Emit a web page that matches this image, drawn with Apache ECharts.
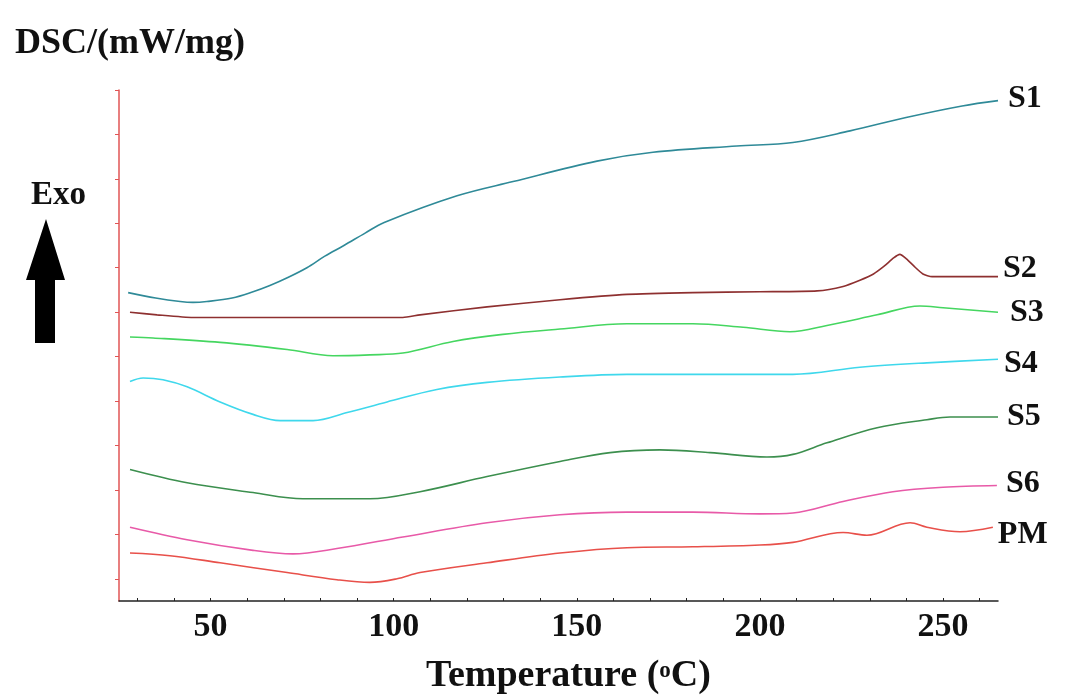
<!DOCTYPE html>
<html>
<head>
<meta charset="utf-8">
<title>DSC</title>
<script src="https://cdn.jsdelivr.net/npm/echarts@6/dist/echarts.min.js"></script>
<style>
	html, body { margin: 0; padding: 0; background: #fff; }
	#chartBox { width: 1065px; height: 695px; }
</style>
</head>
<body>
<div id="chartBox"></div>
<script>
// [temperature (°C), DSC offset (arbitrary, curves are stacked)]
const S1 = [[27.5,3.47],[35,3.41],[41.7,3.37],[45.2,3.36],[49,3.37],[55.9,3.41],[61.6,3.48],[66.2,3.55],[71.1,3.64],[76.3,3.75],[81.2,3.88],[86.4,4.00],[92.2,4.14],[97.4,4.26],[117.3,4.56],[132.6,4.72],[155.5,4.95],[170.8,5.05],[193.7,5.12],[209,5.16],[224.6,5.29],[239.9,5.44],[255.2,5.57],[265,5.63]]
const S2 = [[28,3.25],[35.4,3.22],[45.2,3.19],[70,3.19],[96.3,3.19],[102.5,3.19],[107.2,3.22],[125.5,3.31],[145.4,3.39],[163.7,3.45],[181.7,3.47],[200,3.48],[215.6,3.49],[222.7,3.54],[227.3,3.61],[231,3.68],[234,3.77],[236.5,3.86],[238.2,3.90],[240,3.85],[242,3.77],[244.5,3.68],[247,3.65],[265,3.65]]
const S3 = [[28,2.97],[34.3,2.96],[52.6,2.91],[70.9,2.83],[83.4,2.76],[93.5,2.77],[102.5,2.79],[116.2,2.92],[129.8,3.00],[145.4,3.06],[163.7,3.12],[181.7,3.12],[195.4,3.08],[208.2,3.03],[218.3,3.10],[232,3.22],[243.7,3.32],[250,3.30],[265,3.25]]
const S4 = [[28,2.47],[31.6,2.51],[37,2.49],[43.6,2.41],[52.6,2.24],[61.6,2.10],[69,2.03],[78,2.03],[87.3,2.12],[98.2,2.24],[111.8,2.38],[125.5,2.46],[145.4,2.52],[163.7,2.55],[181.7,2.55],[209,2.55],[227.3,2.63],[245.6,2.68],[265,2.72]]
const S5 = [[28,1.48],[43.6,1.33],[61.6,1.22],[75.2,1.15],[93.5,1.15],[107.2,1.23],[125.5,1.40],[145.4,1.57],[159.1,1.67],[172.7,1.70],[186.4,1.67],[201.9,1.62],[209,1.65],[218.3,1.78],[232,1.95],[245.6,2.04],[251.9,2.07],[265,2.07]]
const S6 = [[28,0.83],[43.6,0.69],[61.6,0.57],[72.5,0.53],[84.5,0.59],[102.5,0.72],[125.5,0.88],[145.4,0.97],[163.7,1.00],[181.7,1.00],[200,0.98],[209,0.99],[222.7,1.12],[236.3,1.23],[250,1.28],[264.7,1.30]]
const PM = [[28,0.54],[38.9,0.51],[52.6,0.43],[70.9,0.32],[84.5,0.24],[93.5,0.21],[100.9,0.25],[107.2,0.32],[125.5,0.43],[145.4,0.54],[163.7,0.60],[181.7,0.61],[200,0.63],[209,0.66],[222.7,0.77],[229.2,0.74],[241,0.88],[245.6,0.83],[254.6,0.78],[263.6,0.83]]

const seriesNames = ['S1', 'S2', 'S3', 'S4', 'S5', 'S6', 'PM']
const seriesData = [S1, S2, S3, S4, S5, S6, PM]
const xLabelValues = [50, 100, 150, 200, 250]
const xTickValues = [30, 40, 50, 60, 70, 80, 90, 100, 110, 120, 130, 140, 150, 160, 170, 180, 190, 200, 210, 220, 230, 240, 250, 260]
const yTickValues = [0.25, 0.75, 1.25, 1.75, 2.25, 2.75, 3.25, 3.75, 4.25, 4.75, 5.25, 5.75]

const colorList = ['#2f8a98', '#8e3030', '#45d660', '#3fd8ec', '#3c8f4e', '#e85aa8', '#e8504a']
const labelOffset = [[2, -2], [-3, -8], [4, 1], [-2, 4], [1, 0], [1, -2], [-3, 7]]
const serif = '"Liberation Serif", "DejaVu Serif", serif'

const chartBox = echarts.init(document.getElementById('chartBox'))

let seriesArr = []
for (let i = 0; i < seriesNames.length; i++) {
	seriesArr.push({
		name: seriesNames[i],
		type: 'line',
		data: seriesData[i],
		smooth: i == 1 ? 0.2 : 0.35,
		showSymbol: false,
		lineStyle: { color: colorList[i], width: 1.6 },
		itemStyle: { color: colorList[i] },
		endLabel: {
			show: true,
			formatter: '{a}',
			distance: 8,
			offset: labelOffset[i],
			color: '#111',
			fontFamily: serif,
			fontWeight: 'bold',
			fontSize: 32,
		},
	})
}

const option = {
	backgroundColor: '#fff',
	animation: false,
	title: {
		text: 'DSC/(mW/mg)',
		left: 10,
		top: 21,
		textStyle: { fontFamily: serif, fontWeight: 'bold', fontSize: 36, color: '#111' },
	},
	grid: { left: 119, right: 67, top: 90, bottom: 94, outerBoundsMode: 'none' },
	xAxis: {
		type: 'value',
		min: 25,
		max: 265,
		name: 'Temperature ({sup|o}C)',
		nameLocation: 'middle',
		nameGap: 56,
		nameTextStyle: {
			fontFamily: serif, fontWeight: 'bold', fontSize: 38, color: '#111',
			padding: [0, 0, 0, 20],
			rich: { sup: { fontFamily: serif, fontWeight: 'bold', fontSize: 23, color: '#111', padding: [0, 0, 10, 0] } },
		},
		splitLine: { show: false },
		axisLine: { show: true, lineStyle: { color: '#222', width: 1.5 } },
		axisTick: { show: true, inside: true, length: 3, customValues: xTickValues, lineStyle: { color: '#222' } },
		axisLabel: {
			customValues: xLabelValues,
			margin: 9,
			fontFamily: serif, fontWeight: 'bold', fontSize: 34, color: '#111',
		},
	},
	yAxis: {
		type: 'value',
		min: 0,
		max: 5.75,
		splitLine: { show: false },
		axisLine: { show: true, lineStyle: { color: '#e05555', width: 1.5 } },
		axisTick: { show: true, length: 4, customValues: yTickValues, lineStyle: { color: '#e05555' } },
		axisLabel: { show: false },
	},
	graphic: [
		{
			type: 'text',
			left: 31,
			top: 179,
			style: { text: 'Exo', fontFamily: serif, fontWeight: 'bold', fontSize: 33, fill: '#111' },
		},
		{
			type: 'polygon',
			shape: { points: [[46, 219], [65, 280], [55, 280], [55, 343], [35, 343], [35, 280], [26, 280]] },
			style: { fill: '#000' },
		},
	],
	series: seriesArr,
}

chartBox.setOption(option)
</script>
</body>
</html>
